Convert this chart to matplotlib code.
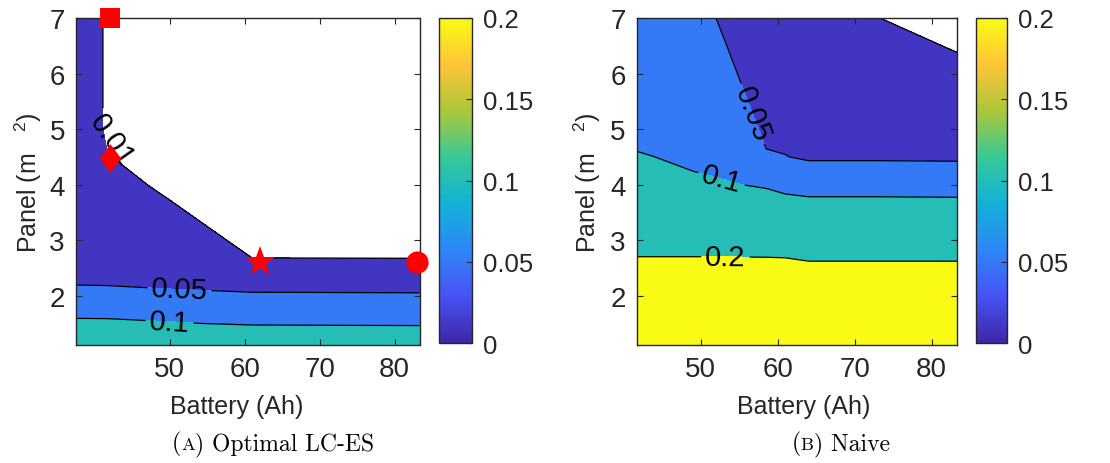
import numpy as np
import matplotlib.pyplot as plt
from matplotlib.colors import LinearSegmentedColormap, Normalize
from matplotlib.cm import ScalarMappable

plt.rcParams['font.family'] = ['Liberation Sans', 'DejaVu Sans']

# parula-like colour map (MATLAB default)
parula = LinearSegmentedColormap.from_list('parula', [
    (0.2422, 0.1504, 0.6603), (0.2810, 0.3228, 0.9579),
    (0.1786, 0.5289, 0.9682), (0.0689, 0.6948, 0.8394),
    (0.2161, 0.7843, 0.5923), (0.6720, 0.7793, 0.2227),
    (0.9970, 0.7659, 0.2199), (0.9769, 0.9839, 0.0805)])

# panel area grid (m^2), shared by both maps
panel = [1.11, 1.5, 2.0, 2.5, 3.0, 3.5, 4.0, 4.5, 5.0, 5.5, 6.0, 6.5, 7.0]

# (a) optimal LC-ES: loss per panel row (rows) and battery size (columns)
battery_a = [37.5, 41.67, 50.0, 61.0, 83.33]
loss_a = [
    [0.140, 0.140, 0.150, 0.160, 0.160],
    [0.1088, 0.1082, 0.1027, 0.095, 0.0931],
    [0.060, 0.060, 0.058, 0.0552, 0.0542],
    [0.0337, 0.0322, 0.0247, 0.0120, 0.0121],
    [0.031, 0.024, 0.018, 0.0064, 0.006],
    [0.029, 0.019, 0.0124, 0.0011, 0.003],
    [0.027, 0.0153, 0.007, 0.0, 0.002],
    [0.026, 0.0105, 0.004, 0.0, 0.001],
    [0.025, 0.0076, 0.002, 0.0, 0.0],
    [0.025, 0.0076, 0.001, 0.0, 0.0],
    [0.025, 0.0076, 0.001, 0.0, 0.0],
    [0.025, 0.0076, 0.001, 0.0, 0.0],
    [0.025, 0.0076, 0.001, 0.0, 0.0],
]

# (b) naive sizing
battery_b = [41.67, 49.0, 52.0, 58.5, 61.0, 64.0, 73.0, 83.33]
loss_b = [
    [0.42, 0.41, 0.41, 0.40, 0.40, 0.39, 0.39, 0.39],
    [0.36, 0.35, 0.35, 0.34, 0.34, 0.33, 0.33, 0.33],
    [0.29, 0.29, 0.28, 0.28, 0.28, 0.27, 0.27, 0.27],
    [0.220, 0.220, 0.220, 0.2123, 0.2113, 0.2063, 0.2063, 0.2063],
    [0.170, 0.170, 0.170, 0.180, 0.180, 0.180, 0.180, 0.180],
    [0.145, 0.135, 0.130, 0.1307, 0.129, 0.1255, 0.1255, 0.1235],
    [0.125, 0.110, 0.105, 0.095, 0.085, 0.080, 0.080, 0.080],
    [0.105, 0.0892, 0.0858, 0.0518, 0.0509, 0.0451, 0.0451, 0.0443],
    [0.080, 0.075, 0.075, 0.0455, 0.040, 0.038, 0.038, 0.036],
    [0.075, 0.068, 0.068, 0.0397, 0.034, 0.032, 0.032, 0.028],
    [0.070, 0.063, 0.061, 0.035, 0.030, 0.027, 0.026, 0.0178],
    [0.065, 0.058, 0.055, 0.0314, 0.026, 0.022, 0.0204, 0.0075],
    [0.060, 0.055, 0.0499, 0.028, 0.022, 0.018, 0.0102, 0.003],
]

levels = [0.01, 0.05, 0.1, 0.2]

# optimal designs marked on map (a)
opt_battery = [42, 42, 62, 83]
opt_panel = [7.0, 4.47, 2.6, 2.6]

diamond = [(0, 1), (0.75, 0), (0, -1), (-0.75, 0), (0, 1)]
marker_styles = [('s', 14.4), (diamond, 20.5), ('*', 23), ('o', 16)]

W, H = 1110, 464
fig = plt.figure(figsize=(W / 100, H / 100), dpi=100)
norm = Normalize(0, 0.2)
fill_colors = [parula(norm(l)) for l in levels]
dark = '0.15'


def draw_map(ax_box, cb_box, battery, loss, xlim, label_pos, ylab_x, xlab_x,
             first_label_rot=None):
    ax = fig.add_axes(ax_box)
    X, Y = np.meshgrid(battery, panel)
    Z = np.array(loss)
    ax.contourf(X, Y, Z, levels=levels + [1.0], colors=fill_colors)
    cs = ax.contour(X, Y, Z, levels=levels, colors='k', linewidths=0.9)
    lab_levels = [lv for lv in levels if Z.min() < lv < Z.max()]
    texts = ax.clabel(cs, lab_levels, manual=label_pos, inline=True,
                      inline_spacing=4, fontsize=21, fmt=lambda v: f'{v:g}')
    if first_label_rot is not None:
        texts[0].set_rotation(first_label_rot)
        texts[0].set_position(label_pos[0])
    ax.set_xlim(*xlim)
    ax.set_ylim(1.11, 7)
    ax.set_xticks([50, 60, 70, 80])
    ax.set_yticks([2, 3, 4, 5, 6, 7])
    ax.tick_params(direction='in', top=True, right=True, length=4, width=0.8,
                   labelsize=20, pad=8, colors=dark)
    for s in ax.spines.values():
        s.set_color(dark)
        s.set_linewidth(1.0)
    ax.set_xlabel('Battery (Ah)', fontsize=18, color=dark)
    ax.set_ylabel(r'Panel (m   $\mathregular{^2}$)', fontsize=18, color=dark)
    ax.xaxis.set_label_coords(xlab_x, -0.15)
    ax.yaxis.set_label_coords(ylab_x, 0.5)

    cax = fig.add_axes(cb_box)
    cb = fig.colorbar(ScalarMappable(norm=norm, cmap=parula), cax=cax)
    cb.set_ticks([0, 0.05, 0.1, 0.15, 0.2])
    cb.set_ticklabels(['0', '0.05', '0.1', '0.15', '0.2'])
    cb.ax.tick_params(direction='in', length=4, width=0.8, labelsize=18.5,
                      pad=8, colors=dark)
    cb.outline.set_edgecolor(dark)
    cb.outline.set_linewidth(1.0)
    return ax


def fig_box(x0, y0, x1, y1):
    return [x0 / W, 1 - y1 / H, (x1 - x0) / W, (y1 - y0) / H]


ax_a = draw_map(fig_box(76, 19, 419.5, 346), fig_box(439, 19, 472, 344),
                battery_a, loss_a, (37.5, 83.33),
                [(42.3, 4.82), (51.3, 2.12), (50.0, 1.54)], -0.093, 0.469,
                first_label_rot=-55)
ax_b = draw_map(fig_box(636.7, 19, 957.3, 346), fig_box(975.7, 19, 1006.7, 344),
                battery_b, loss_b, (41.67, 83.33),
                [(57.2, 5.3), (52.7, 4.1), (53.2, 2.70)], -0.105, 0.522)

for bx, py, (mk, ms) in zip(opt_battery, opt_panel, marker_styles):
    ax_a.plot(bx, py, marker=mk, ms=ms, color='red', mec='red', mew=0,
              linestyle='none', clip_on=False, zorder=6)


# sub-captions with a small-caps letter
def caption(xc, yb, letter, rest, size=17):
    parts = [fig.text(0, yb, '(', fontsize=size, family='cmr10'),
             fig.text(0, yb, letter, fontsize=size * 0.78, family='cmr10'),
             fig.text(0, yb, ') ' + rest, fontsize=size, family='cmr10')]
    r = fig.canvas.get_renderer()
    widths = [p.get_window_extent(r).width for p in parts]
    x = xc - sum(widths) / 2
    for p, w in zip(parts, widths):
        p.set_x(x / W)
        x += w


caption(273, 1 - 450 / H, 'A', 'Optimal LC-ES')
caption(840.5, 1 - 450 / H, 'B', 'Naive')

fig.savefig('out.png', dpi=100)
